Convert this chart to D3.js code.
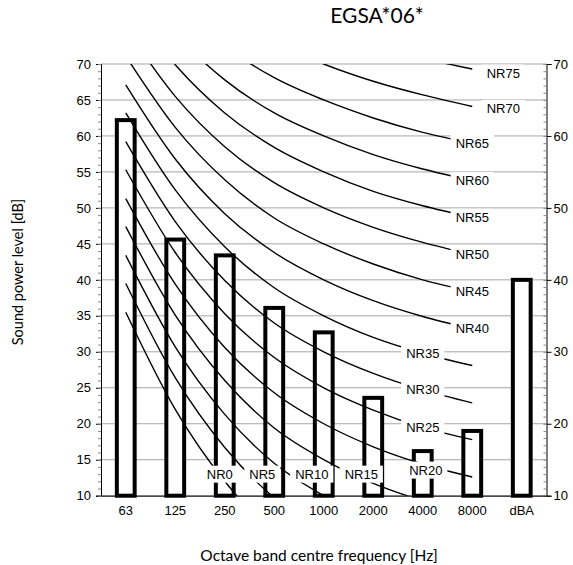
<!DOCTYPE html>
<html>
<head>
<meta charset="utf-8">
<script src="https://cdn.jsdelivr.net/npm/d3@7"></script>
<style>
  body { margin: 0; background: #fff; }
  svg { display: block; }
  .tick-label { font-family: "Liberation Sans", Arial, sans-serif; font-size: 13px; fill: #000; }
  .nr-label { font-family: "Liberation Sans", Arial, sans-serif; font-size: 13px; fill: #000; }
  .title { font-family: Lato, "Open Sans", sans-serif; fill: #000; }
</style>
</head>
<body>
<svg id="chart" width="573" height="565"></svg>
<script>
// octave bands + overall level
const bands = ["63", "125", "250", "500", "1000", "2000", "4000", "8000", "dBA"];
// measured sound power level per band (last one is dBA)
const soundPower = [62.2, 45.6, 43.4, 36.1, 32.7, 23.6, 16.2, 19.0, 40.0];

// NR rating curves, values at 63 .. 8000 Hz
const nrBands = ["63", "125", "250", "500", "1000", "2000", "4000", "8000"];
const nrRatings = [0, 5, 10, 15, 20, 25, 30, 35, 40, 45, 50, 55, 60, 65, 70, 75];
const nrValues = [
  [35.5, 22.0, 12.0,  4.8,  0.0, -3.5, -6.1, -8.0],
  [39.5, 26.4, 16.7,  9.7,  5.0,  1.6, -1.0, -2.9],
  [43.4, 30.7, 21.3, 14.5, 10.0,  6.7,  4.2,  2.3],
  [47.4, 35.1, 26.0, 19.4, 15.0, 11.7,  9.3,  7.5],
  [51.3, 39.4, 30.6, 24.3, 20.0, 16.8, 14.4, 12.6],
  [55.3, 43.8, 35.3, 29.2, 25.0, 21.9, 19.5, 17.8],
  [59.2, 48.1, 39.9, 34.0, 30.0, 27.0, 24.7, 22.9],
  [63.2, 52.5, 44.6, 38.9, 35.0, 32.0, 29.8, 28.1],
  [67.1, 56.8, 49.2, 43.8, 40.0, 37.1, 34.9, 33.2],
  [71.1, 61.2, 53.9, 48.6, 45.0, 42.2, 40.0, 38.4],
  [75.0, 65.5, 58.5, 53.5, 50.0, 47.3, 45.2, 43.5],
  [79.0, 69.9, 63.2, 58.4, 55.0, 52.3, 50.3, 48.7],
  [82.9, 74.2, 67.8, 63.2, 60.0, 57.4, 55.4, 53.8],
  [86.9, 78.6, 72.5, 68.1, 65.0, 62.5, 60.5, 59.0],
  [90.8, 82.9, 77.1, 73.0, 70.0, 67.6, 65.7, 64.1],
  [94.8, 87.3, 81.8, 77.9, 75.0, 72.6, 70.8, 69.3]
];
// band at which each curve's label sits
const nrLabelBand = ["250", "500", "1000", "2000", "4000", "4000", "4000", "4000",
                     "8000", "8000", "8000", "8000", "8000", "8000", "8000", "8000"];

const leftTicks = [10, 15, 20, 25, 30, 35, 40, 45, 50, 55, 60, 65, 70];
const rightTicks = [10, 20, 30, 40, 50, 60, 70];

const plot = { left: 101, right: 546.5, top: 64, bottom: 495.7 };

const svg = d3.select("#chart");

const x = d3.scaleBand().domain(bands).range([plot.left, plot.right]);
const y = d3.scaleLinear().domain([10, 70]).range([plot.bottom, plot.top]);
const cx = (b) => x(b) + x.bandwidth() / 2;

svg.append("defs").append("clipPath").attr("id", "plotclip")
  .append("rect")
  .attr("x", plot.left).attr("y", plot.top)
  .attr("width", plot.right - plot.left).attr("height", plot.bottom - plot.top);

// gridlines
svg.append("g")
  .selectAll("line").data(leftTicks).join("line")
  .attr("x1", plot.left).attr("x2", plot.right)
  .attr("y1", d => y(d)).attr("y2", d => y(d))
  .attr("stroke", "#a6a6a6").attr("stroke-width", 1);

// bars: white filled, thick black outline
const barW = x.bandwidth() * 0.36;
svg.append("g")
  .selectAll("rect").data(bands).join("rect")
  .attr("x", (d) => cx(d) - barW / 2)
  .attr("y", (d, i) => y(soundPower[i]))
  .attr("width", barW)
  .attr("height", (d, i) => y(10) - y(soundPower[i]))
  .attr("fill", "#fff").attr("stroke", "#000").attr("stroke-width", 4);

// NR curves (smoothed like the spreadsheet lines)
const line = d3.line()
  .x((d, i) => cx(nrBands[i]))
  .y(d => y(d))
  .curve(d3.curveCatmullRom.alpha(0));

svg.append("g").attr("clip-path", "url(#plotclip)")
  .selectAll("path").data(nrValues).join("path")
  .attr("d", line)
  .attr("fill", "none").attr("stroke", "#000").attr("stroke-width", 1.4);

// axes
const yLeft = d3.axisLeft(y).tickValues(leftTicks).tickSize(5).tickFormat(d3.format("d"));
const gl = svg.append("g").attr("transform", `translate(${plot.left},0)`).call(yLeft);
gl.select(".domain").attr("stroke", "#000");
gl.selectAll("text").attr("class", "tick-label").attr("x", -10);
gl.attr("font-size", null).attr("font-family", null);

const yLeftMinor = d3.axisLeft(y).tickValues(d3.range(10, 71)).tickSize(3).tickFormat("");
svg.append("g").attr("transform", `translate(${plot.left},0)`).call(yLeftMinor)
  .call(g => g.select(".domain").remove())
  .selectAll("line").attr("stroke", "#888");

const yRight = d3.axisRight(y).tickValues(rightTicks).tickSize(5).tickFormat(d3.format("d"));
const gr = svg.append("g").attr("transform", `translate(${plot.right},0)`).call(yRight);
gr.select(".domain").attr("stroke", "#000");
gr.selectAll("text").attr("class", "tick-label").attr("x", 7);
gr.attr("font-size", null).attr("font-family", null);

const yRightMinor = d3.axisLeft(y).tickValues(d3.range(10, 71)).tickSize(3).tickFormat("");
svg.append("g").attr("transform", `translate(${plot.right},0)`).call(yRightMinor)
  .call(g => g.select(".domain").remove())
  .selectAll("line").attr("stroke", "#888");

// bottom axis: line + labels only
const xAxis = d3.axisBottom(x).tickSize(0).tickPadding(10);
const gx = svg.append("g").attr("transform", `translate(0,${plot.bottom})`).call(xAxis);
gx.select(".domain").attr("stroke", "#000");
gx.selectAll("text").attr("class", "tick-label");
gx.attr("font-size", null).attr("font-family", null);

// NR labels with white boxes over the curves
const labelOffset = { 0: [-5, 0], 5: [-12, 0], 10: [-12, 0], 15: [-12, 0], 20: [3, 6], 70: [31, 2], 75: [31, 4] };
const labels = svg.append("g");
nrRatings.forEach((nr, k) => {
  const bi = nrBands.indexOf(nrLabelBand[k]);
  const v = Math.max(nrValues[k][bi], 13);
  const off = labelOffset[nr] || [0, 0];
  const lx = cx(nrLabelBand[k]) + off[0];
  const ly = y(v) + off[1];
  const g = labels.append("g").attr("transform", `translate(${lx},${ly})`);
  const rect = g.append("rect").attr("fill", "#fff");
  const t = g.append("text").attr("class", "nr-label")
    .attr("text-anchor", "middle").attr("dy", "0.35em").text("NR" + nr);
  const bb = t.node().getBBox();
  rect.attr("x", bb.x - 5).attr("y", bb.y - 1).attr("width", bb.width + 10).attr("height", bb.height + 2);
});

// titles
svg.append("text").attr("class", "title")
  .attr("x", 377).attr("y", 23).attr("text-anchor", "middle")
  .attr("font-size", 21).text("EGSA*06*");

svg.append("text").attr("class", "title")
  .attr("x", 319).attr("y", 561).attr("text-anchor", "middle")
  .attr("font-size", 15.5).text("Octave band centre frequency [Hz]");

svg.append("text").attr("class", "title")
  .attr("transform", "translate(23,272) rotate(-90)").attr("text-anchor", "middle")
  .attr("font-size", 14.5).text("Sound power level [dB]");
</script>
</body>
</html>
